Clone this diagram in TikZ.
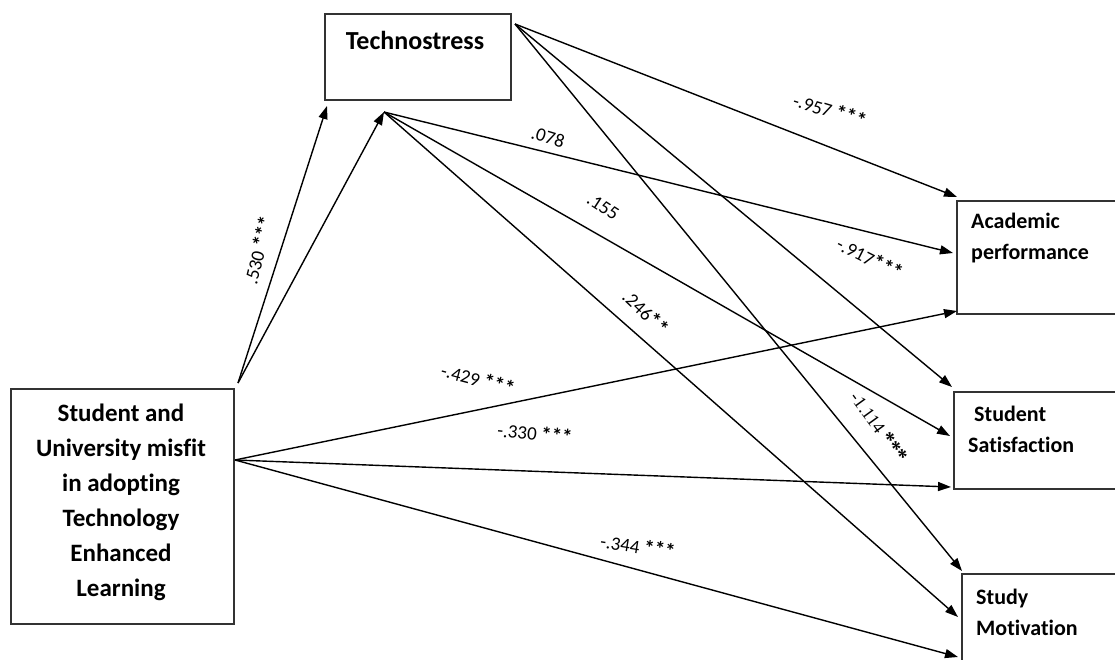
\documentclass[tikz,border=0pt]{standalone}
\usepackage{fontspec}
\setmainfont[Ligatures=NoCommon]{Carlito}
\newfontfamily\serifl{Liberation Serif}
\usetikzlibrary{arrows.meta}
\newcommand{\stars}[1]{{\fontsize{21}{20}\selectfont\bfseries#1}}
\begin{document}
\begin{tikzpicture}[x=1pt,y=-1pt,
  box/.style={draw=black!80, line width=1.6pt, rectangle, inner sep=0pt, anchor=north west},
  btxt/.style={font=\fontsize{22}{31}\selectfont\bfseries, inner sep=0pt, align=left, anchor=west},
  conn/.style={line width=1.4pt, -{Triangle[length=13pt,width=9pt]}},
  lab/.style={font=\fontsize{19}{20}\selectfont, inner sep=1pt}]
\useasboundingbox (0,0) rectangle (1115,660);
\clip (0,0) rectangle (1115,660);

% boxes
\node[box, minimum width=223pt, minimum height=235pt] (stu) at (10,388) {};
\node[font=\fontsize{25}{35}\selectfont\bfseries, align=center, inner sep=0pt] (stut) at (121,502)
  {Student and\\University misfit\\in adopting\\Technology\\Enhanced\\Learning};
\node[box, minimum width=186pt, minimum height=86pt] (ts) at (324,13) {};
\node[font=\fontsize{26}{30}\selectfont\bfseries, inner sep=0pt] (tst) at (415,40) {Technostress};
\node[box, minimum width=200pt, minimum height=113pt] (ap) at (956,200) {};
\node[btxt] (apt) at (971,238) {Academic\\performance};
\node[box, minimum width=200pt, minimum height=97pt] (ss) at (953,391) {};
\node[btxt] (sst) at (968,429) {\hspace{6pt}Student\\Satisfaction};
\node[box, minimum width=200pt, minimum height=90pt] (sm) at (961,573) {};
\node[btxt] (smt) at (976,612) {Study\\Motivation};

% connector end points
\coordinate (sTop) at (238,383);
\coordinate (sMid) at (235,460);
\coordinate (tR) at (515,24);
\coordinate (tIn1) at (327,106);
\coordinate (tIn2) at (384,112);
\coordinate (a1) at (957,197);
\coordinate (a2) at (953,253);
\coordinate (a3) at (957,311);
\coordinate (s1) at (952,387);
\coordinate (s2) at (950,436);
\coordinate (s3) at (951,487);
\coordinate (m1) at (962,571);
\coordinate (m2) at (958,617);
\coordinate (m3) at (958,657);

% connectors
\draw[conn] (sTop) -- (tIn1);
\draw[conn] (sTop) -- (tIn2);
\draw[conn] (tR) -- (a1);
\draw[conn] (tR) -- (s1);
\draw[conn] (tR) -- (m1);
\draw[conn] (tIn2) -- (a2);
\draw[conn] (tIn2) -- (s2);
\draw[conn] (tIn2) -- (m2);
\draw[conn] (sMid) -- (a3);
\draw[conn] (sMid) -- (s3);
\draw[conn] (sMid) -- (m3);

% labels
\node[lab, rotate=76] (l1) at (258,250) {.530 \stars{***}};
\node[lab, rotate=-17] (l2) at (830,110) {-.957 \stars{***}};
\node[lab, rotate=-17] (l3) at (548,137) {.078};
\node[lab, rotate=-33] (l4) at (603,207) {.155};
\node[lab, rotate=-44] (l5) at (646,312) {.246\stars{**}};
\node[lab, rotate=-27] (l6) at (870,258) {-.917\stars{***}};
\node[lab, rotate=-54, font=\serifl\fontsize{18}{20}\selectfont] (l7) at (879,427) {-1.114 \stars{***}};
\node[lab, rotate=-15] (l8) at (478,379) {-.429 \stars{***}};
\node[lab, rotate=-6] (l9) at (535,433) {-.330 \stars{***}};
\node[lab, rotate=-9] (l10) at (638,546) {-.344 \stars{***}};
\end{tikzpicture}
\end{document}
